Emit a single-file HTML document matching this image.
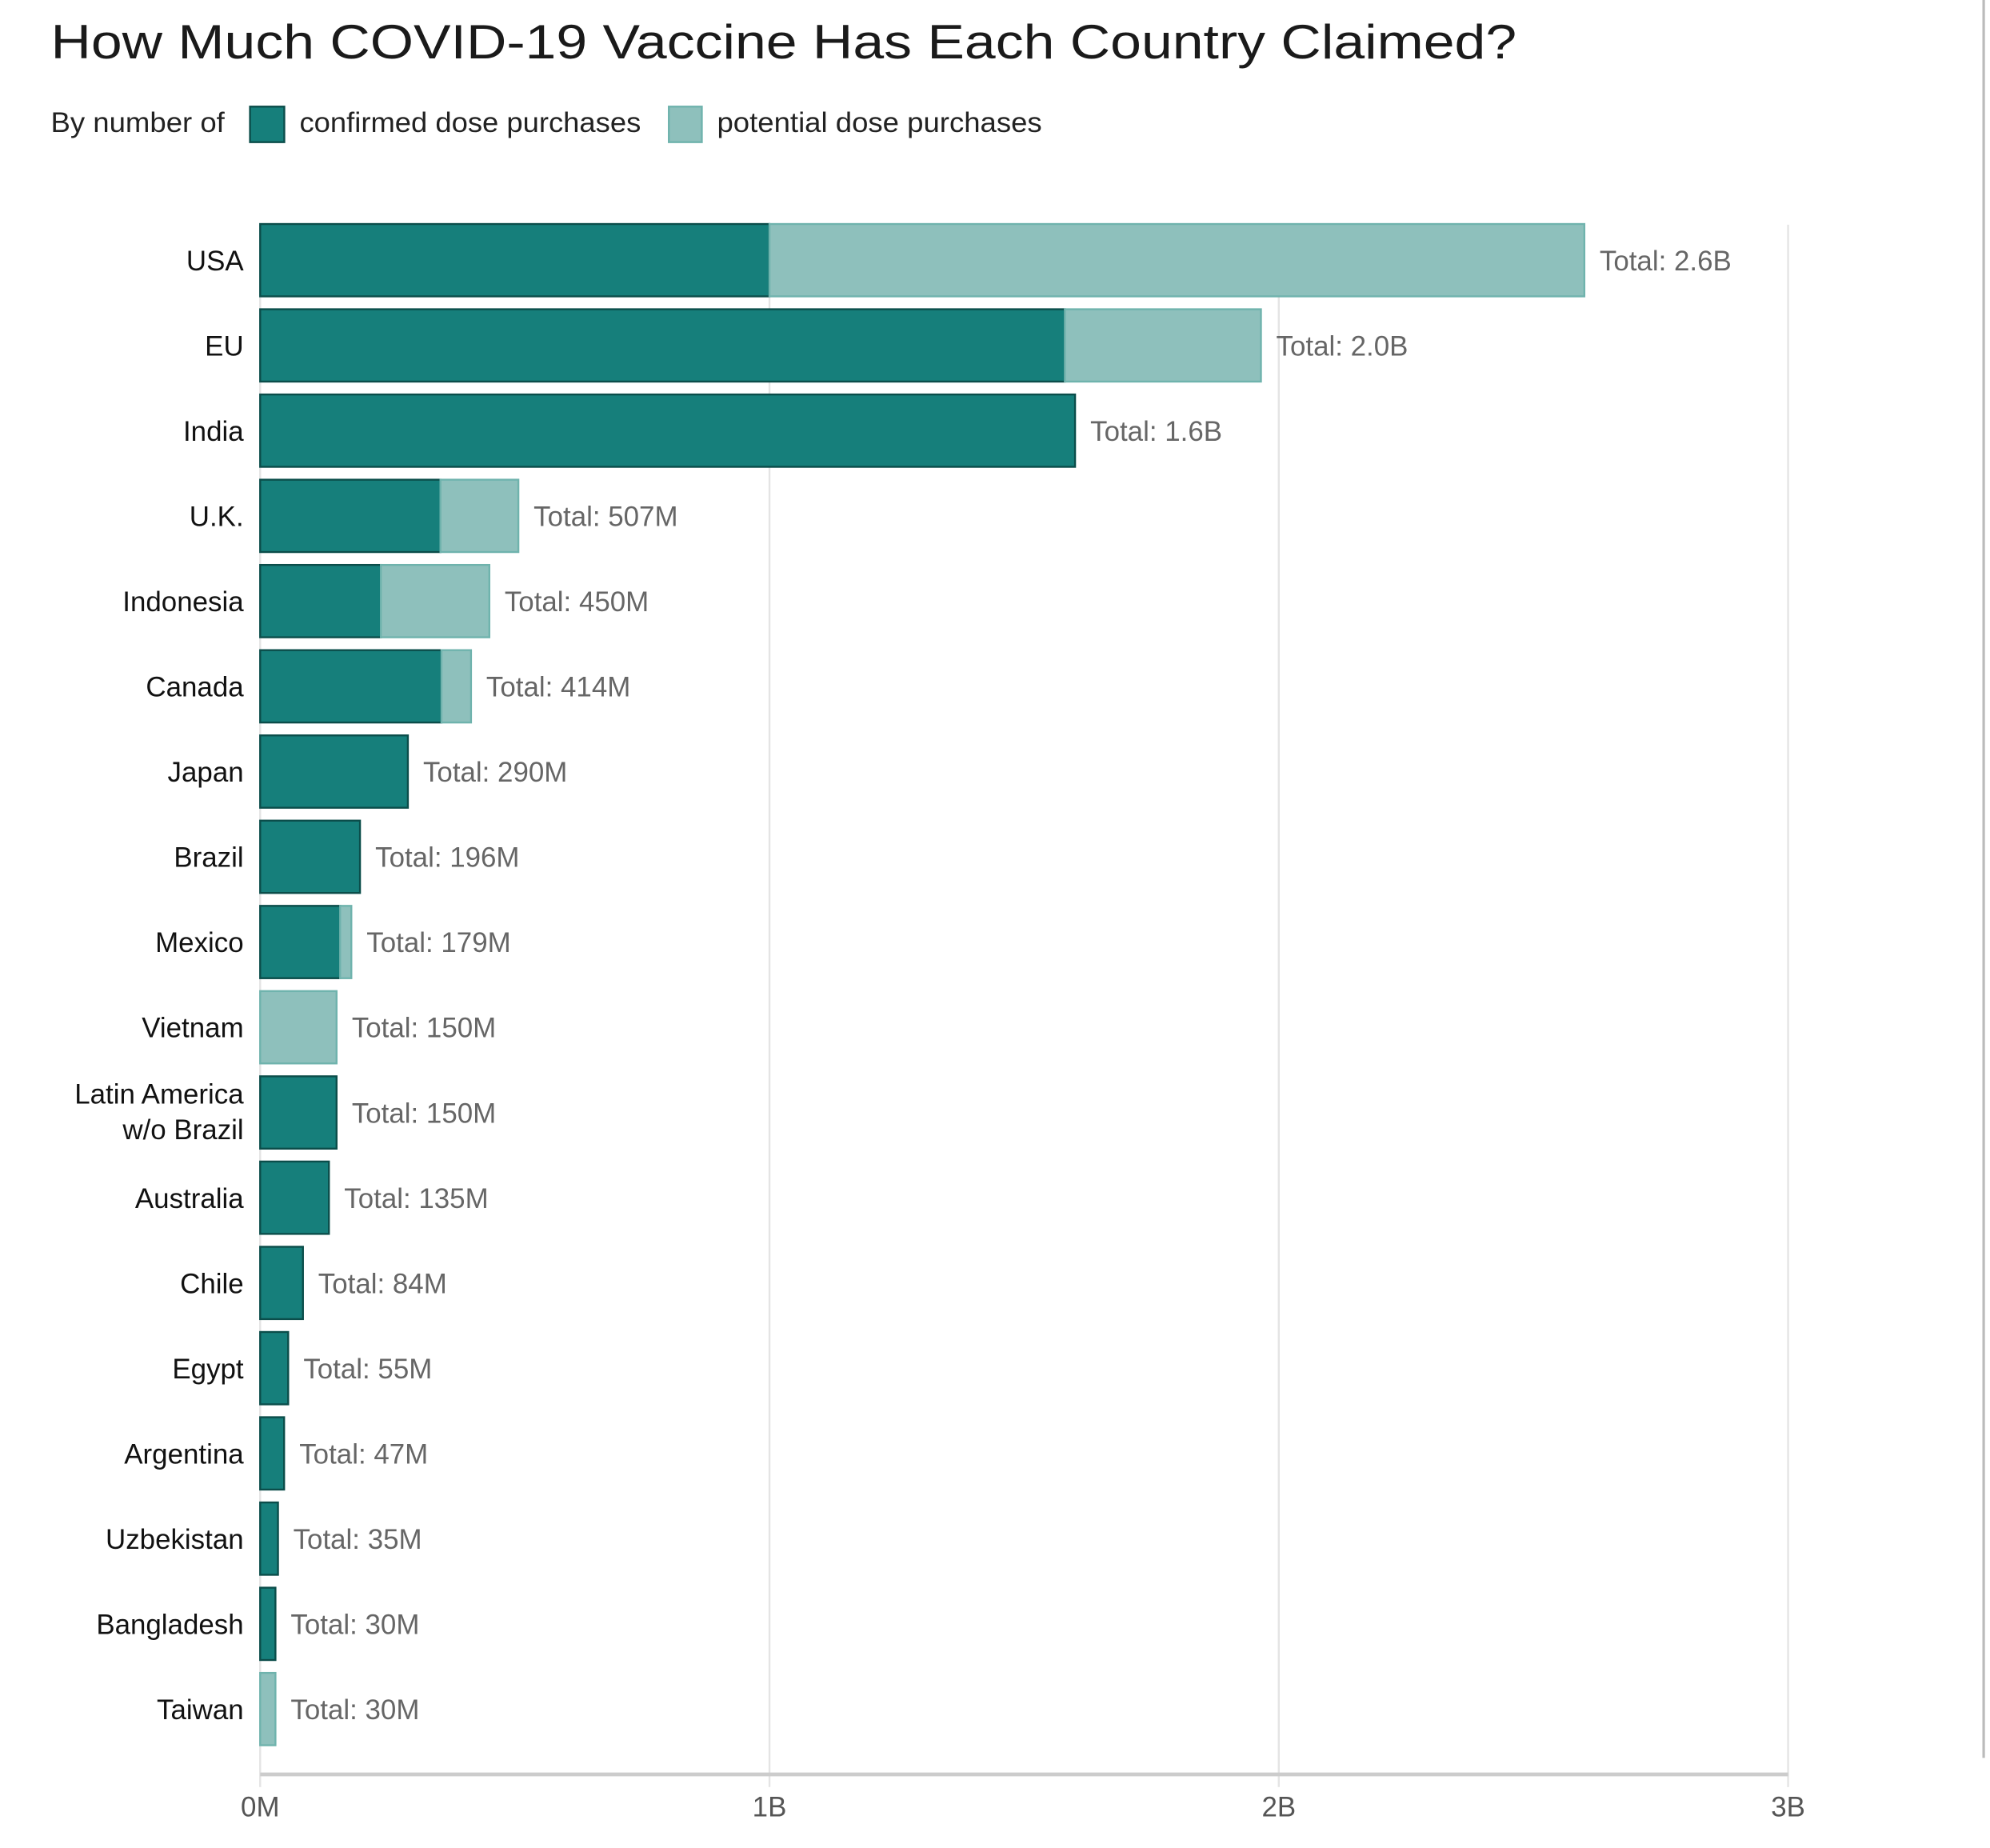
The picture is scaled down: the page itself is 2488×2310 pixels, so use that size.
<!DOCTYPE html>
<html><head><meta charset="utf-8"><style>
html,body{margin:0;padding:0;background:#fff}
svg{display:block}
text{font-family:"Liberation Sans",sans-serif}
</style></head><body>
<svg id="chart" width="2488" height="2310" viewBox="0 0 1568 1456" preserveAspectRatio="none" xmlns="http://www.w3.org/2000/svg">
<text x="40" y="46" font-size="38" fill="#1a1a1a" textLength="1155" lengthAdjust="spacingAndGlyphs">How Much COVID-19 Vaccine Has Each Country Claimed?</text>
<g>
<text x="40" y="104" font-size="22" fill="#222" textLength="137" lengthAdjust="spacingAndGlyphs">By number of</text>
<rect x="197" y="84" width="27" height="28" fill="#167f7b" stroke="#0b4d4a" stroke-width="1.5"/>
<text x="236" y="104" font-size="22" fill="#222" textLength="269" lengthAdjust="spacingAndGlyphs">confirmed dose purchases</text>
<rect x="527" y="84" width="26" height="28" fill="#8ec0bc" stroke="#6fb3ad" stroke-width="1.5"/>
<text x="565" y="104" font-size="22" fill="#222" textLength="256" lengthAdjust="spacingAndGlyphs">potential dose purchases</text>
</g>
<line x1="1563" y1="0" x2="1563" y2="1385" stroke="#bbb" stroke-width="2"/>
<g id="grid"></g>
<g id="bars"></g>
<g id="axis"></g>
</svg>
<script>
const countries = ["USA","EU","India","U.K.","Indonesia","Canada","Japan","Brazil","Mexico","Vietnam","Latin America|w/o Brazil","Australia","Chile","Egypt","Argentina","Uzbekistan","Bangladesh","Taiwan"];
const confirmed = [1000,1580,1600,354,237,356,290,196,157,0,150,135,84,55,47,35,30,0];
const potential = [1600,385,0,153,213,58,0,0,22,150,0,0,0,0,0,0,0,30];
const totalLabels = ["2.6B","2.0B","1.6B","507M","450M","414M","290M","196M","179M","150M","150M","135M","84M","55M","47M","35M","30M","30M"];
const ticks = [0,1000,2000,3000];
const tickLabels = ["0M","1B","2B","3B"];

const NS="http://www.w3.org/2000/svg";
const x0=205, pxPerM=401.3/1000;
const xs=v=>x0+v*pxPerM;
const rowY=i=>205+i*67.15;
const barH=57;
function mk(tag,attrs,parent,txt){const e=document.createElementNS(NS,tag);for(const k in attrs)e.setAttribute(k,attrs[k]);if(txt!==undefined)e.textContent=txt;parent.appendChild(e);return e;}
const grid=document.getElementById('grid'),bars=document.getElementById('bars'),axis=document.getElementById('axis');
ticks.forEach((t,i)=>{
  const l=mk('line',{x1:xs(t),x2:xs(t),y1:177,y2:1408,stroke:'#e4e4e4','stroke-width':1.5},grid);
  
  
  const tl=mk('text',{x:xs(t),y:1431,'font-size':22,fill:'#555','text-anchor':'middle'},axis,tickLabels[i]);
  
  
});
const ax=mk('line',{x1:x0,x2:xs(3000),y1:1398,y2:1398,stroke:'#ccc','stroke-width':3},axis);


countries.forEach((c,i)=>{
  const cy=rowY(i), top=cy-barH/2;
  const parts=c.split('|');
  const lab=mk('text',{x:192,'font-size':22,fill:'#111','text-anchor':'end'},bars);
  
  
  if(parts.length===1){lab.setAttribute('y',cy+8);lab.textContent=c;}
  else{parts.forEach((p,j)=>mk('tspan',{x:192,y:cy-7+j*28},lab,p));}
  if(confirmed[i]>0){
    const r=mk('rect',{x:x0,y:top,width:confirmed[i]*pxPerM,height:barH,fill:'#167f7b',stroke:'#0b4d4a','stroke-width':1.5},bars);
    
    
  }
  if(potential[i]>0){
    const r=mk('rect',{x:xs(confirmed[i]),y:top,width:potential[i]*pxPerM,height:barH,fill:'#8ec0bc',stroke:'#6fb3ad','stroke-width':1.5},bars);
    
    
  }
  const t=mk('text',{x:xs(confirmed[i]+potential[i])+12,y:cy+8,'font-size':22,fill:'#666'},bars,'Total: '+totalLabels[i]);
  
  
});
</script>
</body></html>
